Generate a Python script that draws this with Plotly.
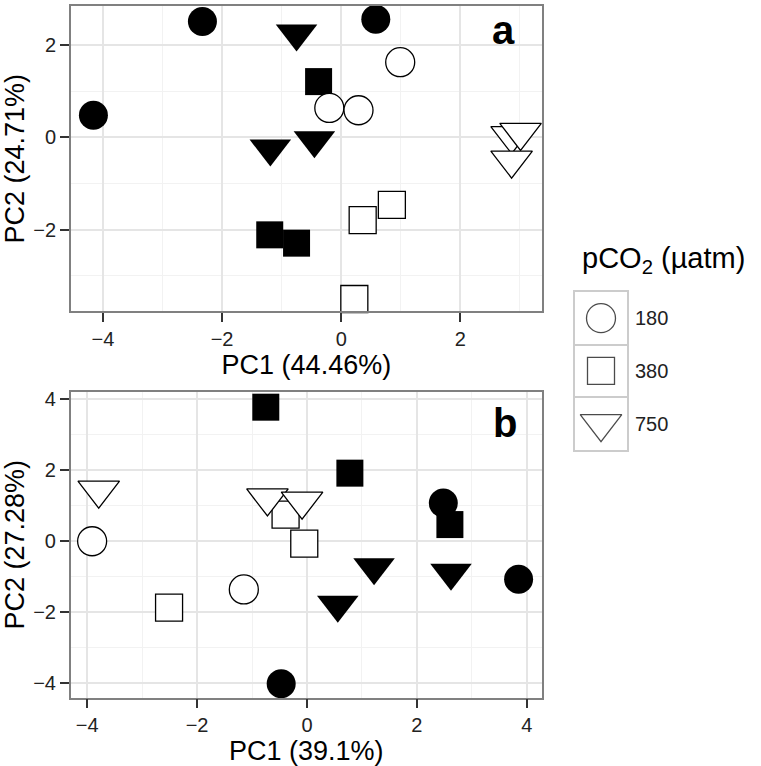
import plotly.graph_objects as go

# ---------------- data ----------------
# Panel a
a_pc1 = [-4.16, -2.33, 0.58, -0.75, -1.19, -0.45, -0.38, -1.20, -0.75,
         0.99, -0.20, 0.29, 0.85, 0.36, 0.22, 2.86, 3.01, 2.86]
a_pc2 = [0.48, 2.51, 2.56, 2.25, -0.24, -0.06, 1.21, -2.11, -2.29,
         1.63, 0.64, 0.59, -1.46, -1.79, -3.50, 0.04, 0.11, -0.49]
a_co2 = [180, 180, 180, 750, 750, 750, 380, 380, 380,
         180, 180, 180, 380, 380, 380, 750, 750, 750]
a_group = ["solid", "solid", "solid", "solid", "solid", "solid", "solid", "solid", "solid",
           "open", "open", "open", "open", "open", "open", "open", "open", "open"]

# Panel b
b_pc1 = [-0.75, 0.78, 2.60, 2.48, 3.85, -0.47, 1.22, 0.56, 2.62,
         -3.91, -1.15, -2.51, -0.05, -0.39, -3.79, -0.72, -0.09]
b_pc2 = [3.78, 1.92, 0.47, 1.08, -1.07, -4.02, -0.73, -1.79, -0.89,
         0.00, -1.36, -1.87, -0.07, 0.75, 1.44, 1.22, 1.13]
b_co2 = [380, 380, 380, 180, 180, 180, 750, 750, 750,
         180, 180, 380, 380, 380, 750, 750, 750]
b_group = ["solid", "solid", "solid", "solid", "solid", "solid", "solid", "solid", "solid",
           "open", "open", "open", "open", "open", "open", "open", "open"]

co2_levels = [180, 380, 750]
co2_labels = ["180", "380", "750"]

a_xlabel = "PC1 (44.46%)"
a_ylabel = "PC2 (24.71%)"
b_xlabel = "PC1 (39.1%)"
b_ylabel = "PC2 (27.28%)"
legend_title = "pCO<sub>2</sub> (µatm)"

# ---------------- style ----------------
SYMBOL = {180: "circle", 380: "square", 750: "triangle-down"}
SIZE = {180: 29, 380: 27, 750: 36}
FONT = "Arial, Liberation Sans, Helvetica, sans-serif"
DRAW_ORDER = [(380, "solid"), (380, "open"), (180, "solid"), (180, "open"),
              (750, "solid"), (750, "open")]

fig = go.Figure()


def add_panel(xs, ys, co2, grp, xa, ya):
    for lev, g in DRAW_ORDER:
        idx = [i for i in range(len(xs)) if co2[i] == lev and grp[i] == g]
        if not idx:
            continue
        fig.add_trace(go.Scatter(
            x=[xs[i] for i in idx], y=[ys[i] for i in idx],
            mode="markers", xaxis=xa, yaxis=ya, showlegend=False,
            cliponaxis=False,
            marker=dict(symbol=SYMBOL[lev], size=SIZE[lev],
                        color="black" if g == "solid" else "white",
                        line=dict(color="black", width=1.3 if g == "open" else 0)),
        ))


add_panel(a_pc1, a_pc2, a_co2, a_group, "x", "y")
add_panel(b_pc1, b_pc2, b_co2, b_group, "x2", "y2")

# legend keys drawn on a small axis (one row per pCO2 level)
key_rows = list(range(len(co2_levels)))
fig.add_trace(go.Scatter(
    x=[0 for _ in co2_levels], y=key_rows, mode="markers",
    xaxis="x3", yaxis="y3", showlegend=False,
    marker=dict(symbol=[SYMBOL[l] for l in co2_levels],
                size=[SIZE[l] for l in co2_levels],
                color="white", line=dict(color="black", width=1.3)),
))

GRID_MAJOR = "#e5e5e5"
GRID_MINOR = "#f2f2f2"
BORDER = "#808080"

common = dict(
    showgrid=True, gridcolor=GRID_MAJOR, gridwidth=1.5,
    zeroline=False, showline=True, mirror=True, linecolor=BORDER, linewidth=1.5,
    ticks="outside", ticklen=9, tickwidth=1.5, tickcolor="#333333",
    tickfont=dict(family=FONT, size=20, color="#222222"),
    dtick=2, tick0=0,
    minor=dict(dtick=1, tick0=1, showgrid=True, gridcolor=GRID_MINOR, gridwidth=1),
    title_font=dict(family=FONT, size=27, color="black"),
)

fig.update_layout(
    width=761, height=766,
    margin=dict(l=0, r=0, t=0, b=0),
    paper_bgcolor="white", plot_bgcolor="white",
    font=dict(family=FONT, color="black"),
    xaxis=dict(domain=[0.0930, 0.7122], range=[-4.54, 3.37], anchor="y",
               title=dict(text=a_xlabel, standoff=2), **common),
    yaxis=dict(domain=[0.5965, 0.9975], range=[-3.77, 2.85], anchor="x",
               title=dict(text=a_ylabel, standoff=4), **common),
    xaxis2=dict(domain=[0.0929, 0.7118], range=[-4.30, 4.27], anchor="y2",
                title=dict(text=b_xlabel, standoff=2), **common),
    yaxis2=dict(domain=[0.0897, 0.4909], range=[-4.41, 4.21], anchor="x2",
                title=dict(text=b_ylabel, standoff=4), **common),
    xaxis3=dict(domain=[0.7556, 0.8239], range=[-1, 1], anchor="y3",
                showgrid=False, zeroline=False, showticklabels=False, ticks="",
                showline=True, mirror=True, linecolor="#cccccc", linewidth=2,
                fixedrange=True),
    yaxis3=dict(domain=[0.4148, 0.6223], range=[2.5, -0.5], anchor="x3",
                side="right", tickmode="array", tickvals=key_rows,
                ticktext=co2_labels, ticks="", showgrid=False, zeroline=False,
                tickfont=dict(family=FONT, size=20, color="#222222"),
                ticklabelstandoff=2,
                showline=True, mirror=True, linecolor="#cccccc", linewidth=2,
                minor=dict(tickmode="array", tickvals=[0.5, 1.5], showgrid=True,
                           gridcolor="#cccccc", gridwidth=2, ticks=""),
                fixedrange=True),
    annotations=[
        dict(text="<b>a</b>", xref="x domain", yref="y domain", x=0.919, y=0.92,
             showarrow=False, xanchor="center", yanchor="middle",
             font=dict(family=FONT, size=40, color="black")),
        dict(text="<b>b</b>", xref="x2 domain", yref="y2 domain", x=0.922, y=0.9,
             showarrow=False, xanchor="center", yanchor="middle",
             font=dict(family=FONT, size=40, color="black")),
        dict(text=legend_title, xref="paper", yref="paper", x=580 / 761, y=1 - 257 / 766,
             showarrow=False, xanchor="left", yanchor="middle",
             font=dict(family=FONT, size=29, color="black")),
    ],
)

fig.write_html(
    "out.html",
    config={"displayModeBar": False},
    post_script="document.body.style.margin='0';document.body.style.overflow='hidden';",
)
